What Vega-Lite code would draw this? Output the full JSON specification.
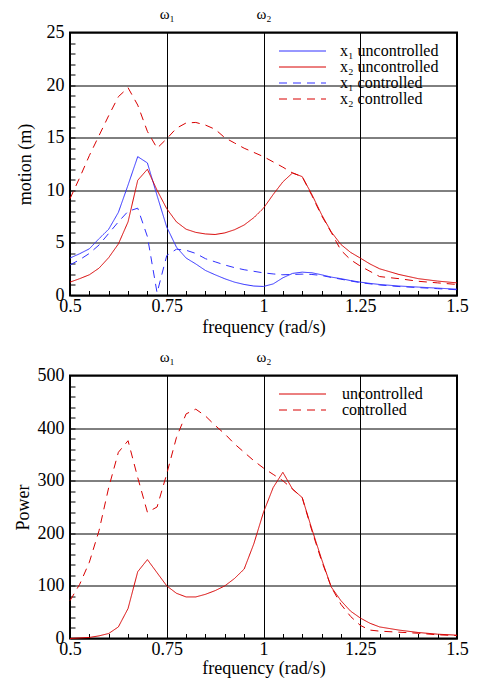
{
  "$schema": "https://vega.github.io/schema/vega-lite/v6.json",
  "background": "white",
  "padding": {"left": 13, "top": 4.5, "right": 5, "bottom": 1},
  "bounds": "flush",
  "spacing": 80,
  "resolve": {"scale": {"color": "independent", "strokeDash": "independent", "x": "independent", "y": "independent"}, "legend": {"color": "independent", "strokeDash": "independent"}},
  "config": {
    "font": "Liberation Serif",
    "view": {"stroke": "#000", "strokeWidth": 2},
    "axis": {
      "labelFont": "Liberation Serif", "titleFont": "Liberation Serif",
      "labelFontSize": 18, "titleFontSize": 18, "titleFontWeight": "normal",
      "labelColor": "#000", "titleColor": "#000", "tickColor": "#000",
      "domain": false, "gridColor": "#000", "gridOpacity": 1, "gridWidth": 1,
      "labelFlush": false, "labelOverlap": false
    },
    "legend": {"labelFont": "Liberation Serif", "labelFontSize": 16, "labelColor": "#000"}
  },
  "datasets": {
    "motion": [
      {"f":0.5,"v":3.56,"s":"x₁ uncontrolled"},{"f":0.525,"v":3.97,"s":"x₁ uncontrolled"},{"f":0.55,"v":4.44,"s":"x₁ uncontrolled"},{"f":0.575,"v":5.4,"s":"x₁ uncontrolled"},{"f":0.6,"v":6.3,"s":"x₁ uncontrolled"},{"f":0.625,"v":7.9,"s":"x₁ uncontrolled"},{"f":0.65,"v":10.5,"s":"x₁ uncontrolled"},{"f":0.675,"v":13.2,"s":"x₁ uncontrolled"},{"f":0.7,"v":12.6,"s":"x₁ uncontrolled"},{"f":0.725,"v":9.5,"s":"x₁ uncontrolled"},{"f":0.75,"v":6.5,"s":"x₁ uncontrolled"},{"f":0.775,"v":4.6,"s":"x₁ uncontrolled"},{"f":0.8,"v":3.56,"s":"x₁ uncontrolled"},{"f":0.825,"v":3.0,"s":"x₁ uncontrolled"},{"f":0.85,"v":2.38,"s":"x₁ uncontrolled"},{"f":0.875,"v":1.97,"s":"x₁ uncontrolled"},{"f":0.9,"v":1.59,"s":"x₁ uncontrolled"},{"f":0.925,"v":1.27,"s":"x₁ uncontrolled"},{"f":0.95,"v":1.05,"s":"x₁ uncontrolled"},{"f":0.975,"v":0.9,"s":"x₁ uncontrolled"},{"f":1.0,"v":0.86,"s":"x₁ uncontrolled"},{"f":1.025,"v":1.1,"s":"x₁ uncontrolled"},{"f":1.05,"v":1.68,"s":"x₁ uncontrolled"},{"f":1.075,"v":2.1,"s":"x₁ uncontrolled"},{"f":1.1,"v":2.22,"s":"x₁ uncontrolled"},{"f":1.125,"v":2.16,"s":"x₁ uncontrolled"},{"f":1.15,"v":1.97,"s":"x₁ uncontrolled"},{"f":1.175,"v":1.75,"s":"x₁ uncontrolled"},{"f":1.2,"v":1.6,"s":"x₁ uncontrolled"},{"f":1.225,"v":1.42,"s":"x₁ uncontrolled"},{"f":1.25,"v":1.27,"s":"x₁ uncontrolled"},{"f":1.275,"v":1.15,"s":"x₁ uncontrolled"},{"f":1.3,"v":1.05,"s":"x₁ uncontrolled"},{"f":1.35,"v":0.9,"s":"x₁ uncontrolled"},{"f":1.4,"v":0.8,"s":"x₁ uncontrolled"},{"f":1.45,"v":0.7,"s":"x₁ uncontrolled"},{"f":1.5,"v":0.6,"s":"x₁ uncontrolled"},
      {"f":0.5,"v":1.27,"s":"x₂ uncontrolled"},{"f":0.525,"v":1.6,"s":"x₂ uncontrolled"},{"f":0.55,"v":1.97,"s":"x₂ uncontrolled"},{"f":0.575,"v":2.6,"s":"x₂ uncontrolled"},{"f":0.6,"v":3.6,"s":"x₂ uncontrolled"},{"f":0.625,"v":4.9,"s":"x₂ uncontrolled"},{"f":0.65,"v":7.0,"s":"x₂ uncontrolled"},{"f":0.675,"v":10.95,"s":"x₂ uncontrolled"},{"f":0.7,"v":12.0,"s":"x₂ uncontrolled"},{"f":0.725,"v":10.0,"s":"x₂ uncontrolled"},{"f":0.75,"v":8.25,"s":"x₂ uncontrolled"},{"f":0.775,"v":7.0,"s":"x₂ uncontrolled"},{"f":0.8,"v":6.3,"s":"x₂ uncontrolled"},{"f":0.825,"v":6.0,"s":"x₂ uncontrolled"},{"f":0.85,"v":5.85,"s":"x₂ uncontrolled"},{"f":0.875,"v":5.8,"s":"x₂ uncontrolled"},{"f":0.9,"v":5.95,"s":"x₂ uncontrolled"},{"f":0.925,"v":6.25,"s":"x₂ uncontrolled"},{"f":0.95,"v":6.7,"s":"x₂ uncontrolled"},{"f":0.975,"v":7.4,"s":"x₂ uncontrolled"},{"f":1.0,"v":8.3,"s":"x₂ uncontrolled"},{"f":1.025,"v":9.6,"s":"x₂ uncontrolled"},{"f":1.05,"v":10.8,"s":"x₂ uncontrolled"},{"f":1.075,"v":11.65,"s":"x₂ uncontrolled"},{"f":1.1,"v":11.3,"s":"x₂ uncontrolled"},{"f":1.125,"v":9.6,"s":"x₂ uncontrolled"},{"f":1.15,"v":7.7,"s":"x₂ uncontrolled"},{"f":1.175,"v":6.05,"s":"x₂ uncontrolled"},{"f":1.2,"v":4.85,"s":"x₂ uncontrolled"},{"f":1.225,"v":4.1,"s":"x₂ uncontrolled"},{"f":1.25,"v":3.56,"s":"x₂ uncontrolled"},{"f":1.275,"v":3.0,"s":"x₂ uncontrolled"},{"f":1.3,"v":2.54,"s":"x₂ uncontrolled"},{"f":1.35,"v":2.0,"s":"x₂ uncontrolled"},{"f":1.4,"v":1.6,"s":"x₂ uncontrolled"},{"f":1.45,"v":1.37,"s":"x₂ uncontrolled"},{"f":1.5,"v":1.2,"s":"x₂ uncontrolled"},
      {"f":0.5,"v":2.9,"s":"x₁ controlled"},{"f":0.525,"v":3.4,"s":"x₁ controlled"},{"f":0.55,"v":4.0,"s":"x₁ controlled"},{"f":0.575,"v":4.8,"s":"x₁ controlled"},{"f":0.6,"v":5.9,"s":"x₁ controlled"},{"f":0.625,"v":7.0,"s":"x₁ controlled"},{"f":0.65,"v":8.0,"s":"x₁ controlled"},{"f":0.675,"v":8.3,"s":"x₁ controlled"},{"f":0.7,"v":5.6,"s":"x₁ controlled"},{"f":0.725,"v":0.25,"s":"x₁ controlled"},{"f":0.75,"v":3.8,"s":"x₁ controlled"},{"f":0.775,"v":4.4,"s":"x₁ controlled"},{"f":0.8,"v":4.3,"s":"x₁ controlled"},{"f":0.825,"v":4.0,"s":"x₁ controlled"},{"f":0.85,"v":3.5,"s":"x₁ controlled"},{"f":0.875,"v":3.2,"s":"x₁ controlled"},{"f":0.9,"v":2.9,"s":"x₁ controlled"},{"f":0.925,"v":2.65,"s":"x₁ controlled"},{"f":0.95,"v":2.45,"s":"x₁ controlled"},{"f":0.975,"v":2.3,"s":"x₁ controlled"},{"f":1.0,"v":2.15,"s":"x₁ controlled"},{"f":1.025,"v":2.05,"s":"x₁ controlled"},{"f":1.05,"v":1.97,"s":"x₁ controlled"},{"f":1.075,"v":2.0,"s":"x₁ controlled"},{"f":1.1,"v":2.03,"s":"x₁ controlled"},{"f":1.125,"v":2.0,"s":"x₁ controlled"},{"f":1.15,"v":1.9,"s":"x₁ controlled"},{"f":1.175,"v":1.72,"s":"x₁ controlled"},{"f":1.2,"v":1.55,"s":"x₁ controlled"},{"f":1.25,"v":1.22,"s":"x₁ controlled"},{"f":1.3,"v":1.0,"s":"x₁ controlled"},{"f":1.35,"v":0.85,"s":"x₁ controlled"},{"f":1.4,"v":0.75,"s":"x₁ controlled"},{"f":1.45,"v":0.65,"s":"x₁ controlled"},{"f":1.5,"v":0.55,"s":"x₁ controlled"},
      {"f":0.5,"v":9.2,"s":"x₂ controlled"},{"f":0.525,"v":11.2,"s":"x₂ controlled"},{"f":0.55,"v":13.3,"s":"x₂ controlled"},{"f":0.575,"v":15.2,"s":"x₂ controlled"},{"f":0.6,"v":17.1,"s":"x₂ controlled"},{"f":0.625,"v":18.9,"s":"x₂ controlled"},{"f":0.65,"v":19.75,"s":"x₂ controlled"},{"f":0.675,"v":18.1,"s":"x₂ controlled"},{"f":0.7,"v":15.6,"s":"x₂ controlled"},{"f":0.725,"v":14.0,"s":"x₂ controlled"},{"f":0.75,"v":14.9,"s":"x₂ controlled"},{"f":0.775,"v":15.9,"s":"x₂ controlled"},{"f":0.8,"v":16.4,"s":"x₂ controlled"},{"f":0.825,"v":16.45,"s":"x₂ controlled"},{"f":0.85,"v":16.2,"s":"x₂ controlled"},{"f":0.875,"v":15.8,"s":"x₂ controlled"},{"f":0.9,"v":15.0,"s":"x₂ controlled"},{"f":0.925,"v":14.5,"s":"x₂ controlled"},{"f":0.95,"v":14.0,"s":"x₂ controlled"},{"f":0.975,"v":13.6,"s":"x₂ controlled"},{"f":1.0,"v":13.2,"s":"x₂ controlled"},{"f":1.025,"v":12.7,"s":"x₂ controlled"},{"f":1.05,"v":12.2,"s":"x₂ controlled"},{"f":1.075,"v":11.65,"s":"x₂ controlled"},{"f":1.1,"v":11.3,"s":"x₂ controlled"},{"f":1.125,"v":9.5,"s":"x₂ controlled"},{"f":1.15,"v":7.6,"s":"x₂ controlled"},{"f":1.175,"v":6.0,"s":"x₂ controlled"},{"f":1.2,"v":4.3,"s":"x₂ controlled"},{"f":1.225,"v":3.4,"s":"x₂ controlled"},{"f":1.25,"v":2.8,"s":"x₂ controlled"},{"f":1.275,"v":2.3,"s":"x₂ controlled"},{"f":1.3,"v":1.8,"s":"x₂ controlled"},{"f":1.35,"v":1.6,"s":"x₂ controlled"},{"f":1.4,"v":1.35,"s":"x₂ controlled"},{"f":1.45,"v":1.2,"s":"x₂ controlled"},{"f":1.5,"v":1.05,"s":"x₂ controlled"}
    ],
    "power": [
      {"f":0.5,"v":0,"p":"uncontrolled"},{"f":0.525,"v":1,"p":"uncontrolled"},{"f":0.55,"v":2,"p":"uncontrolled"},{"f":0.575,"v":5,"p":"uncontrolled"},{"f":0.6,"v":9.5,"p":"uncontrolled"},{"f":0.625,"v":22,"p":"uncontrolled"},{"f":0.65,"v":57,"p":"uncontrolled"},{"f":0.675,"v":127,"p":"uncontrolled"},{"f":0.7,"v":150,"p":"uncontrolled"},{"f":0.725,"v":125,"p":"uncontrolled"},{"f":0.75,"v":100,"p":"uncontrolled"},{"f":0.775,"v":86,"p":"uncontrolled"},{"f":0.8,"v":79,"p":"uncontrolled"},{"f":0.825,"v":79,"p":"uncontrolled"},{"f":0.85,"v":84,"p":"uncontrolled"},{"f":0.875,"v":91,"p":"uncontrolled"},{"f":0.9,"v":100,"p":"uncontrolled"},{"f":0.925,"v":114,"p":"uncontrolled"},{"f":0.95,"v":132,"p":"uncontrolled"},{"f":0.975,"v":180,"p":"uncontrolled"},{"f":1.0,"v":240,"p":"uncontrolled"},{"f":1.025,"v":287,"p":"uncontrolled"},{"f":1.05,"v":316,"p":"uncontrolled"},{"f":1.075,"v":284,"p":"uncontrolled"},{"f":1.1,"v":268,"p":"uncontrolled"},{"f":1.125,"v":208,"p":"uncontrolled"},{"f":1.15,"v":151,"p":"uncontrolled"},{"f":1.175,"v":98,"p":"uncontrolled"},{"f":1.2,"v":72,"p":"uncontrolled"},{"f":1.225,"v":52,"p":"uncontrolled"},{"f":1.25,"v":39,"p":"uncontrolled"},{"f":1.275,"v":29,"p":"uncontrolled"},{"f":1.3,"v":22,"p":"uncontrolled"},{"f":1.35,"v":16,"p":"uncontrolled"},{"f":1.4,"v":11.4,"p":"uncontrolled"},{"f":1.45,"v":8.2,"p":"uncontrolled"},{"f":1.5,"v":6.3,"p":"uncontrolled"},
      {"f":0.5,"v":72,"p":"controlled"},{"f":0.525,"v":103,"p":"controlled"},{"f":0.55,"v":145,"p":"controlled"},{"f":0.575,"v":205,"p":"controlled"},{"f":0.6,"v":287,"p":"controlled"},{"f":0.625,"v":354,"p":"controlled"},{"f":0.65,"v":376,"p":"controlled"},{"f":0.675,"v":306,"p":"controlled"},{"f":0.7,"v":240,"p":"controlled"},{"f":0.725,"v":250,"p":"controlled"},{"f":0.75,"v":313,"p":"controlled"},{"f":0.775,"v":382,"p":"controlled"},{"f":0.8,"v":427,"p":"controlled"},{"f":0.825,"v":436,"p":"controlled"},{"f":0.85,"v":423,"p":"controlled"},{"f":0.875,"v":405,"p":"controlled"},{"f":0.9,"v":389,"p":"controlled"},{"f":0.925,"v":370,"p":"controlled"},{"f":0.95,"v":354,"p":"controlled"},{"f":0.975,"v":338,"p":"controlled"},{"f":1.0,"v":324,"p":"controlled"},{"f":1.025,"v":312,"p":"controlled"},{"f":1.05,"v":300,"p":"controlled"},{"f":1.075,"v":284,"p":"controlled"},{"f":1.1,"v":268,"p":"controlled"},{"f":1.125,"v":205,"p":"controlled"},{"f":1.15,"v":148,"p":"controlled"},{"f":1.175,"v":98,"p":"controlled"},{"f":1.2,"v":65,"p":"controlled"},{"f":1.225,"v":42,"p":"controlled"},{"f":1.25,"v":25,"p":"controlled"},{"f":1.275,"v":16,"p":"controlled"},{"f":1.3,"v":14,"p":"controlled"},{"f":1.35,"v":12,"p":"controlled"},{"f":1.4,"v":10,"p":"controlled"},{"f":1.45,"v":7,"p":"controlled"},{"f":1.5,"v":5.5,"p":"controlled"}
    ]
  },
  "vconcat": [
    {
      "width": 387, "height": 263,
      "data": {"name": "motion"},
      "resolve": {"axis": {"x": "independent", "y": "independent"}},
      "layer": [
        {
          "mark": {"type": "line", "strokeWidth": 1},
          "encoding": {
            "x": {"field": "f", "type": "quantitative", "scale": {"domain": [0.5, 1.5], "nice": false, "zero": false},
              "axis": {"orient": "bottom", "values": [0.5, 0.75, 1, 1.25, 1.5], "labelExpr": "format(datum.value, '~g')", "labelFont": "Liberation Serif", "titleFont": "Liberation Serif", "grid": true, "ticks": false, "labelPadding": 2, "title": "frequency (rad/s)", "titlePadding": 3}},
            "y": {"field": "v", "type": "quantitative", "scale": {"domain": [0, 25], "nice": false, "zero": false},
              "axis": {"orient": "left", "values": [0, 5, 10, 15, 20, 25], "labelFont": "Liberation Serif", "titleFont": "Liberation Serif", "grid": true, "ticks": false, "labelPadding": 6, "title": "motion (m)", "titlePadding": 12}},
            "color": {"field": "s", "type": "nominal",
              "scale": {"domain": ["x₁ uncontrolled", "x₂ uncontrolled", "x₁ controlled", "x₂ controlled"], "range": ["#3030ff", "#d80000", "#3030ff", "#d80000"]},
              "legend": {"orient": "none", "legendX": 205, "legendY": 10.5, "title": null, "padding": 0, "symbolType": "M-1,0H10.75", "symbolSize": 64, "symbolStrokeWidth": 1, "labelOffset": 49, "rowPadding": 0}},
            "strokeDash": {"field": "s", "type": "nominal",
              "scale": {"domain": ["x₁ uncontrolled", "x₂ uncontrolled", "x₁ controlled", "x₂ controlled"], "range": [[1, 0], [1, 0], [8, 6], [8, 6]]},
              "legend": {"orient": "none", "legendX": 205, "legendY": 10.5, "title": null, "padding": 0, "symbolType": "M-1,0H10.75", "symbolSize": 64, "symbolStrokeWidth": 1, "labelOffset": 49, "rowPadding": 0}}
          }
        },
        {
          "mark": {"type": "line", "opacity": 0},
          "encoding": {
            "x": {"field": "f", "type": "quantitative", "scale": {"domain": [0.5, 1.5], "nice": false, "zero": false},
              "axis": {"orient": "bottom", "values": [0.55,0.6,0.65,0.7,0.75,0.8,0.85,0.9,0.95,1,1.05,1.1,1.15,1.2,1.25,1.3,1.35,1.4,1.45], "labels": false, "grid": false, "ticks": true, "tickSize": 5, "offset": -5, "title": null}},
            "y": {"field": "v", "type": "quantitative", "scale": {"domain": [0, 25], "nice": false, "zero": false},
              "axis": {"orient": "left", "values": [1,2,3,4,5,6,7,8,9,10,11,12,13,14,15,16,17,18,19,20,21,22,23,24], "labels": false, "grid": false, "ticks": true, "tickSize": 5, "offset": -5, "title": null}},
            "detail": {"field": "s"}
          }
        },
        {
          "mark": {"type": "line", "opacity": 0},
          "encoding": {
            "x": {"field": "f", "type": "quantitative", "scale": {"domain": [0.5, 1.5], "nice": false, "zero": false},
              "axis": {"orient": "top", "values": [0.75, 1], "labelExpr": "datum.value < 0.9 ? 'ω₁' : 'ω₂'", "labelFont": "Liberation Serif", "labelFontSize": 15, "labelPadding": 11.5, "grid": false, "ticks": false, "title": null}},
            "y": {"field": "v", "type": "quantitative", "scale": {"domain": [0, 25], "nice": false, "zero": false}, "axis": null},
            "detail": {"field": "s"}
          }
        }
      ]
    },
    {
      "width": 387, "height": 263,
      "data": {"name": "power"},
      "resolve": {"axis": {"x": "independent", "y": "independent"}},
      "layer": [
        {
          "mark": {"type": "line", "strokeWidth": 1},
          "encoding": {
            "x": {"field": "f", "type": "quantitative", "scale": {"domain": [0.5, 1.5], "nice": false, "zero": false},
              "axis": {"orient": "bottom", "values": [0.5, 0.75, 1, 1.25, 1.5], "labelExpr": "format(datum.value, '~g')", "labelFont": "Liberation Serif", "titleFont": "Liberation Serif", "grid": true, "ticks": false, "labelPadding": 2, "title": "frequency (rad/s)", "titlePadding": 1}},
            "y": {"field": "v", "type": "quantitative", "scale": {"domain": [0, 500], "nice": false, "zero": false},
              "axis": {"orient": "left", "values": [0, 100, 200, 300, 400, 500], "labelFont": "Liberation Serif", "titleFont": "Liberation Serif", "grid": true, "ticks": false, "labelPadding": 6, "title": "Power", "titlePadding": 5}},
            "color": {"field": "p", "type": "nominal",
              "scale": {"domain": ["uncontrolled", "controlled"], "range": ["#d80000", "#d80000"]},
              "legend": {"orient": "none", "legendX": 205, "legendY": 10.5, "title": null, "padding": 0, "symbolType": "M-1,0H10.75", "symbolSize": 64, "symbolStrokeWidth": 1, "labelOffset": 51, "rowPadding": 0}},
            "strokeDash": {"field": "p", "type": "nominal",
              "scale": {"domain": ["uncontrolled", "controlled"], "range": [[1, 0], [8, 6]]},
              "legend": {"orient": "none", "legendX": 205, "legendY": 10.5, "title": null, "padding": 0, "symbolType": "M-1,0H10.75", "symbolSize": 64, "symbolStrokeWidth": 1, "labelOffset": 51, "rowPadding": 0}}
          }
        },
        {
          "mark": {"type": "line", "opacity": 0},
          "encoding": {
            "x": {"field": "f", "type": "quantitative", "scale": {"domain": [0.5, 1.5], "nice": false, "zero": false},
              "axis": {"orient": "bottom", "values": [0.55,0.6,0.65,0.7,0.75,0.8,0.85,0.9,0.95,1,1.05,1.1,1.15,1.2,1.25,1.3,1.35,1.4,1.45], "labels": false, "grid": false, "ticks": true, "tickSize": 5, "offset": -5, "title": null}},
            "y": {"field": "v", "type": "quantitative", "scale": {"domain": [0, 500], "nice": false, "zero": false},
              "axis": {"orient": "left", "values": [20,40,60,80,100,120,140,160,180,200,220,240,260,280,300,320,340,360,380,400,420,440,460,480], "labels": false, "grid": false, "ticks": true, "tickSize": 5, "offset": -5, "title": null}},
            "detail": {"field": "p"}
          }
        },
        {
          "mark": {"type": "line", "opacity": 0},
          "encoding": {
            "x": {"field": "f", "type": "quantitative", "scale": {"domain": [0.5, 1.5], "nice": false, "zero": false},
              "axis": {"orient": "top", "values": [0.75, 1], "labelExpr": "datum.value < 0.9 ? 'ω₁' : 'ω₂'", "labelFont": "Liberation Serif", "labelFontSize": 15, "labelPadding": 11.5, "grid": false, "ticks": false, "title": null}},
            "y": {"field": "v", "type": "quantitative", "scale": {"domain": [0, 500], "nice": false, "zero": false}, "axis": null},
            "detail": {"field": "p"}
          }
        }
      ]
    }
  ]
}
